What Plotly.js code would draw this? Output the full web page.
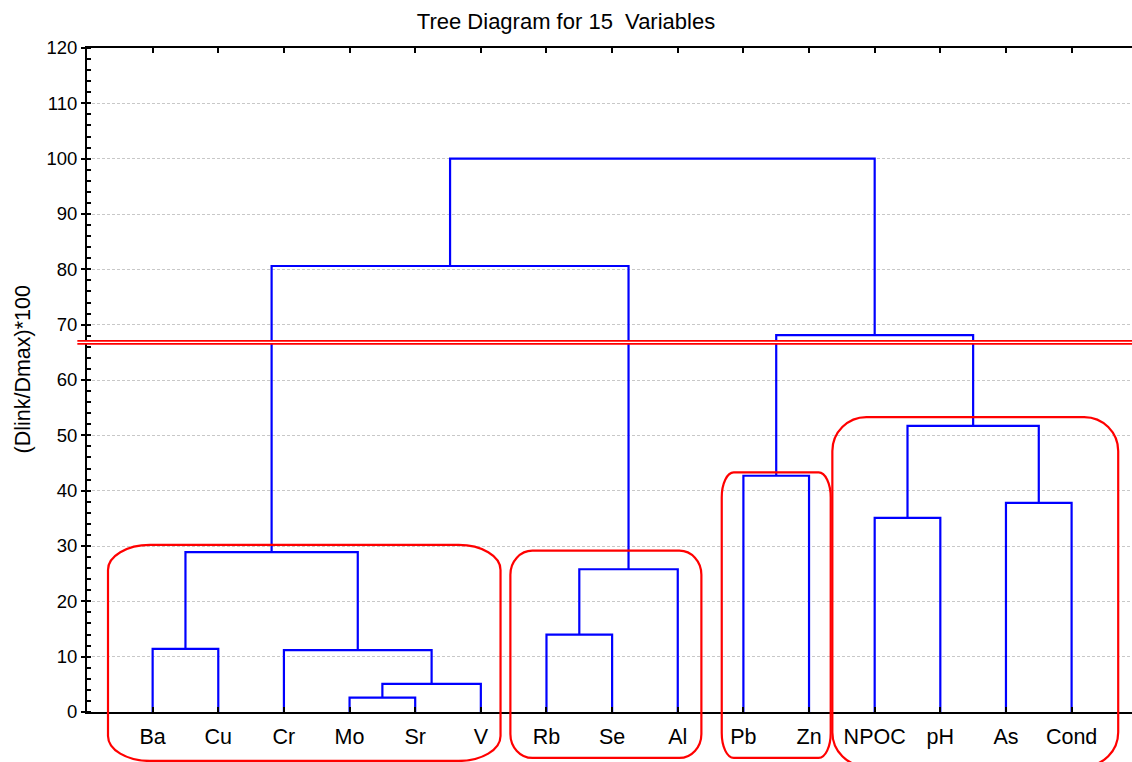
<!DOCTYPE html>
<html>
<head>
<meta charset="utf-8">
<script src="https://cdn.plot.ly/plotly-3.0.1.min.js"></script>
<style>
  html, body { margin: 0; padding: 0; background: #ffffff; }
  #chart { width: 1132px; height: 762px; }
</style>
</head>
<body>
<div id="chart"></div>
<script>
// ---------------- DATA ----------------
const chartTitle = 'Tree Diagram for 15  Variables';
const yAxisTitle = '(Dlink/Dmax)*100';
// leaves in dendrogram order
const leafLabels = ['Ba', 'Cu', 'Cr', 'Mo', 'Sr', 'V', 'Rb', 'Se', 'Al', 'Pb', 'Zn', 'NPOC', 'pH', 'As', 'Cond'];
// merge k joins clusters mergeA[k] and mergeB[k] into new cluster (15 + k)
const mergeA = [3, 15, 2, 0, 6, 19, 18, 11, 13, 9, 22, 24, 21, 27];
const mergeB = [4, 5, 16, 1, 7, 8, 17, 12, 14, 10, 23, 25, 20, 26];
const mergeHeight = [2.6, 5.1, 11.2, 11.4, 14.0, 25.8, 28.9, 35.1, 37.8, 42.7, 51.7, 68.1, 80.6, 100.0];
// cut level (double red line)
const cutHeight = 66.8;
// cluster boxes (axis units)
const boxLeft = [0.32, 6.45, 9.67, 11.355];
const boxRight = [6.30, 9.36, 11.33, 15.71];
const boxTop = [30.2, 29.15, 43.3, 53.3];
const boxBottom = [-8.85, -8.3, -8.3, -9.8];
const yTickVals = [0, 10, 20, 30, 40, 50, 60, 70, 80, 90, 100, 110, 120];

// ---------------- STYLE ----------------
const W = 1132, H = 762;
const M = { l: 87, r: 0, t: 48, b: 50 };
const plotW = W - M.l - M.r, plotH = H - M.t - M.b;
const xRange = [0, plotW / 65.64];
const yRange = [0, 120];
const boxCornerX = [42, 22, 12, 34];
const boxCornerY = [25, 24, 25, 34];
const cutLineStart = -0.147;
const FONT = '"Liberation Sans", Arial, "DejaVu Sans", sans-serif';

// ---------------- BUILD DENDROGRAM ----------------
const nLeaf = leafLabels.length;
const nodeX = [], nodeY = [];
for (let i = 0; i < nLeaf; i++) { nodeX.push(i + 1); nodeY.push(0); }
const segX = [], segY = [];
for (let k = 0; k < mergeA.length; k++) {
  const a = mergeA[k], b = mergeB[k], h = mergeHeight[k];
  segX.push(nodeX[a], nodeX[a], nodeX[b], nodeX[b], null);
  segY.push(nodeY[a], h, h, nodeY[b], null);
  nodeX.push((nodeX[a] + nodeX[b]) / 2);
  nodeY.push(h);
}

const traces = [{
  type: 'scatter', mode: 'lines',
  x: segX, y: segY,
  line: { color: '#0000ff', width: 2.2 },
  hoverinfo: 'skip', showlegend: false, cliponaxis: false
}];

// ---------------- SHAPES ----------------
const px = v => (v - xRange[0]) / (xRange[1] - xRange[0]);
const py = v => (v - yRange[0]) / (yRange[1] - yRange[0]);
const K = 0.5523;
const f = n => n.toFixed(5);
const shapes = [];
for (let i = 0; i < boxLeft.length; i++) {
  const L = px(boxLeft[i]), R = px(boxRight[i]), T = py(boxTop[i]), B = py(boxBottom[i]);
  const rx = boxCornerX[i] / plotW, ry = boxCornerY[i] / plotH;
  const p =
    `M ${f(L)},${f(T - ry)} ` +
    `C ${f(L)},${f(T - ry + K * ry)} ${f(L + rx - K * rx)},${f(T)} ${f(L + rx)},${f(T)} ` +
    `L ${f(R - rx)},${f(T)} ` +
    `C ${f(R - rx + K * rx)},${f(T)} ${f(R)},${f(T - ry + K * ry)} ${f(R)},${f(T - ry)} ` +
    `L ${f(R)},${f(B + ry)} ` +
    `C ${f(R)},${f(B + ry - K * ry)} ${f(R - rx + K * rx)},${f(B)} ${f(R - rx)},${f(B)} ` +
    `L ${f(L + rx)},${f(B)} ` +
    `C ${f(L + rx - K * rx)},${f(B)} ${f(L)},${f(B + ry - K * ry)} ${f(L)},${f(B + ry)} Z`;
  shapes.push({ type: 'path', xref: 'paper', yref: 'paper', path: p,
    line: { color: '#ff0000', width: 2.2 }, fillcolor: 'rgba(0,0,0,0)', layer: 'above' });
}
// double cut line
shapes.push({ type: 'line', xref: 'paper', yref: 'paper',
  x0: px(cutLineStart), x1: 1, y0: py(cutHeight), y1: py(cutHeight),
  line: { color: '#ff0000', width: 4.8 }, layer: 'above' });
shapes.push({ type: 'line', xref: 'paper', yref: 'paper',
  x0: px(cutLineStart) - 0.001, x1: 1.01, y0: py(cutHeight), y1: py(cutHeight),
  line: { color: '#ffffff', width: 1.3 }, layer: 'above' });

// ---------------- LAYOUT ----------------
const layout = {
  width: W, height: H,
  margin: M,
  paper_bgcolor: '#ffffff', plot_bgcolor: '#ffffff',
  font: { family: FONT, color: '#000000' },
  showlegend: false,
  title: {
    text: chartTitle, x: 0.5, xref: 'container', xanchor: 'center',
    y: 1 - 21 / H, yref: 'container', yanchor: 'middle',
    font: { family: FONT, size: 22, color: '#000000' }
  },
  xaxis: {
    range: xRange, showgrid: false, zeroline: false,
    showline: true, linecolor: '#000000', linewidth: 2, mirror: 'ticks',
    ticks: 'inside', ticklen: 5, tickwidth: 2, tickcolor: '#000000',
    tickmode: 'array', tickvals: leafLabels.map((_, i) => i + 1), ticktext: leafLabels,
    tickfont: { family: FONT, size: 21.5, color: '#000000' },
    ticklabelstandoff: 4,
    fixedrange: true
  },
  yaxis: {
    range: yRange, zeroline: false,
    showline: true, linecolor: '#000000', linewidth: 2, mirror: false,
    ticks: 'outside', ticklen: 4, tickwidth: 2, tickcolor: '#000000',
    tickmode: 'array', tickvals: yTickVals,
    tickfont: { family: FONT, size: 18.5, color: '#000000' },
    showgrid: true, gridcolor: '#c8c8c8', gridwidth: 1, griddash: '3px,2px',
    minor: { ticks: 'inside', dtick: 2, ticklen: 4, tickwidth: 2, tickcolor: '#000000', showgrid: false },
    fixedrange: true
  },
  shapes: shapes,
  annotations: [{
    text: yAxisTitle, xref: 'paper', yref: 'paper',
    x: (22.5 - M.l) / plotW, y: (H - M.b - 369) / plotH,
    xanchor: 'center', yanchor: 'middle', textangle: -90, showarrow: false,
    font: { family: FONT, size: 21.5, color: '#000000' }
  }]
};

Plotly.newPlot('chart', traces, layout, { staticPlot: true, displayModeBar: false });
</script>
</body>
</html>
